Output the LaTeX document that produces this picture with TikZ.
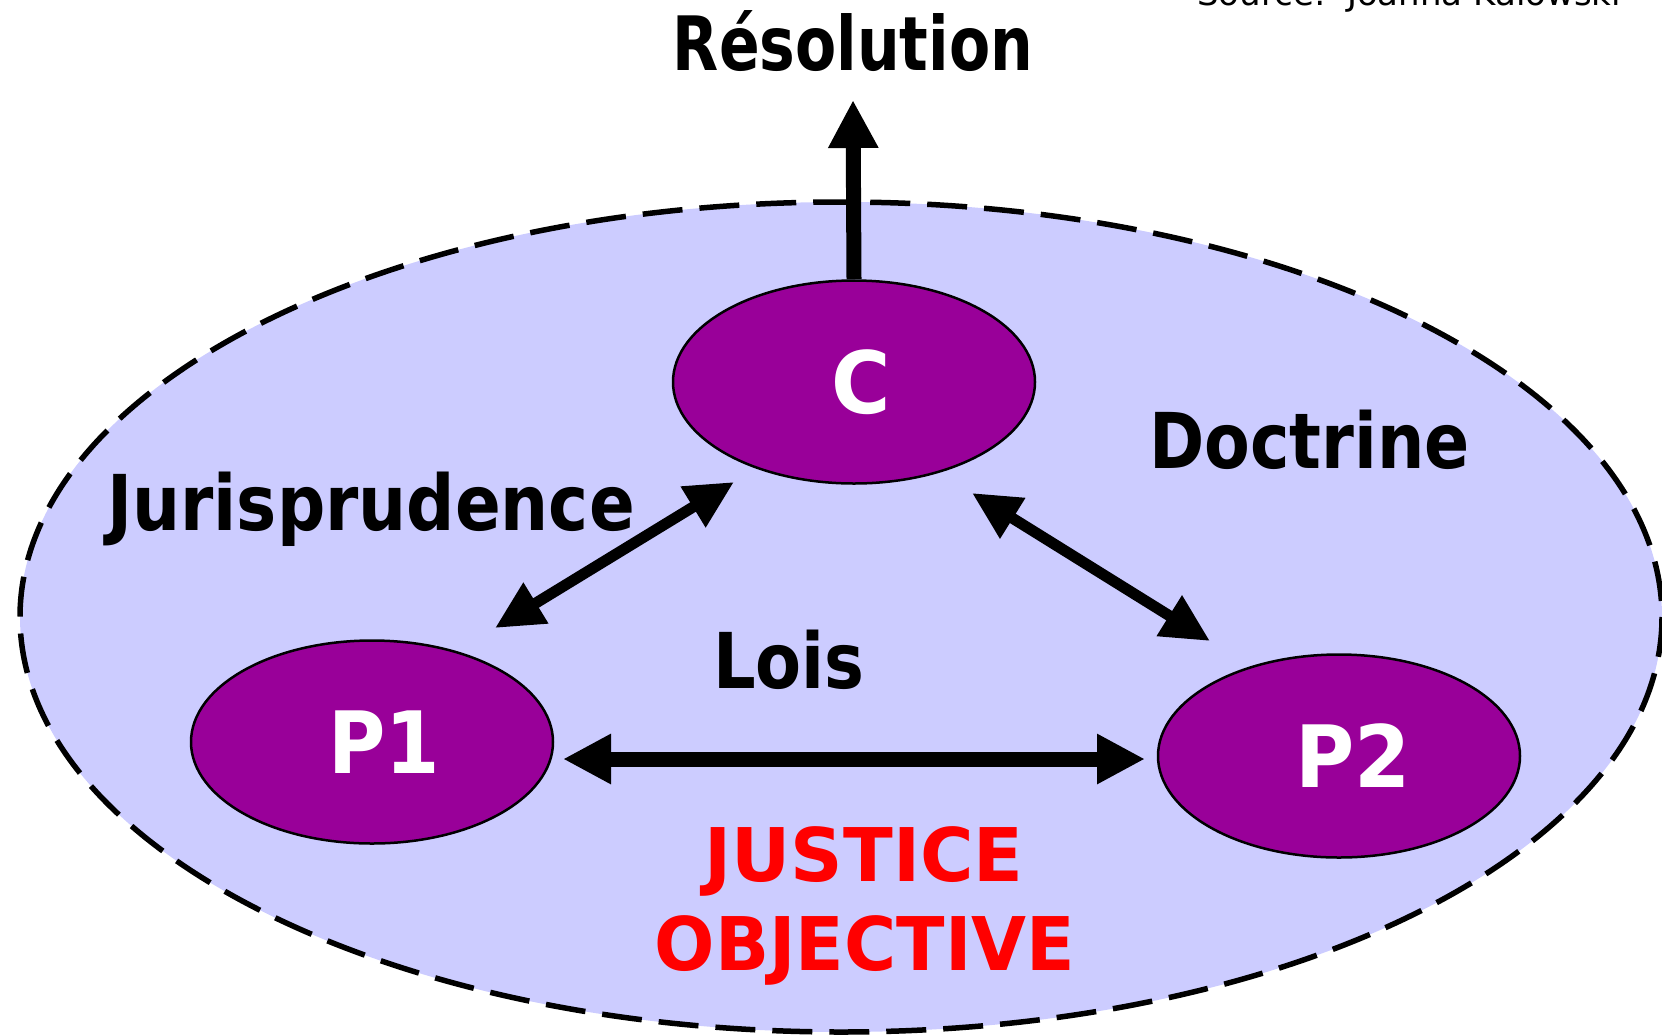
\documentclass[tikz,border=0pt]{standalone}
\usepackage{fontspec}
\setmainfont{DejaVu Sans}
\usetikzlibrary{arrows.meta,shapes.geometric}
\definecolor{lav}{HTML}{CCCCFF}
\definecolor{plum}{HTML}{990099}
\definecolor{jred}{HTML}{FF0000}
\begin{document}
\begin{tikzpicture}[x=1pt,y=-1pt,
  party/.style={ellipse, draw=black, line width=2.5pt, fill=plum, text=white,
    minimum width=362pt, minimum height=203pt, inner sep=0pt,
    font=\bfseries\fontsize{86}{90}\selectfont},
  lbl/.style={inner sep=0pt, font=\bfseries\fontsize{77}{80}\selectfont},
  jlbl/.style={inner sep=0pt, text=jred, font=\bfseries\fontsize{74}{78}\selectfont},
  thick arrow/.style={line width=15pt, {Triangle[length=48pt,width=47pt]}-{Triangle[length=48pt,width=47pt]}},
  diag arrow/.style={line width=11pt, {Triangle[length=48pt,width=45pt]}-{Triangle[length=48pt,width=45pt]}},
]
\useasboundingbox (0,0) rectangle (1662,1034);
\begin{scope}
\clip (0,0) rectangle (1662,1034);
\draw[fill=lav, line width=5.5pt, dash pattern=on 40pt off 17pt] (841,617) ellipse [x radius=821, y radius=415];
\end{scope}

\node[party] (C) at (854,382) {\hspace*{14pt}\scalebox{0.94}[1]{C}};
\node[party] (P1) at (372,742) {\hspace*{24pt}\scalebox{0.91}[1]{P1}};
\node[party] (P2) at (1339,756) {\hspace*{28pt}\scalebox{0.94}[1]{P2}};

\node[inner sep=0pt, anchor=base, font=\bfseries\fontsize{75}{78}\selectfont] (res) at (853,70) {\scalebox{0.8}[1]{Résolution}};
\node[inner sep=0pt, anchor=base west, font=\fontsize{34}{36}\selectfont] (src) at (1197,5) {Source:\ \ Joanna Kalowski};

\node[lbl, anchor=base west] (jur) at (107,530) {\scalebox{0.877}[1]{Jurisprudence}};
\node[lbl, anchor=base west] (doc) at (1149,468) {\scalebox{0.865}[1]{Doctrine}};
\node[lbl, anchor=base west] (lois) at (713,688) {\scalebox{0.87}[1]{Lois}};
\node[jlbl, anchor=base] (just) at (864,881) {\scalebox{0.985}[1]{JUSTICE}};
\node[jlbl, anchor=base] (obj) at (865,970) {\scalebox{0.96}[1]{OBJECTIVE}};

\coordinate (restip) at (853,100);
\coordinate (jA) at (495,628);
\coordinate (jB) at (734,482);
\coordinate (dA) at (972,493);
\coordinate (dB) at (1210,641);
\coordinate (lA) at (563,759);
\coordinate (lB) at (1145,759);

\draw[line width=15pt, -{Triangle[length=48pt,width=47pt]}] (C.north) -- (restip);
\draw[diag arrow] (jA) -- (jB);
\draw[diag arrow] (dA) -- (dB);
\draw[thick arrow] (lA) -- (lB);
\end{tikzpicture}
\end{document}
